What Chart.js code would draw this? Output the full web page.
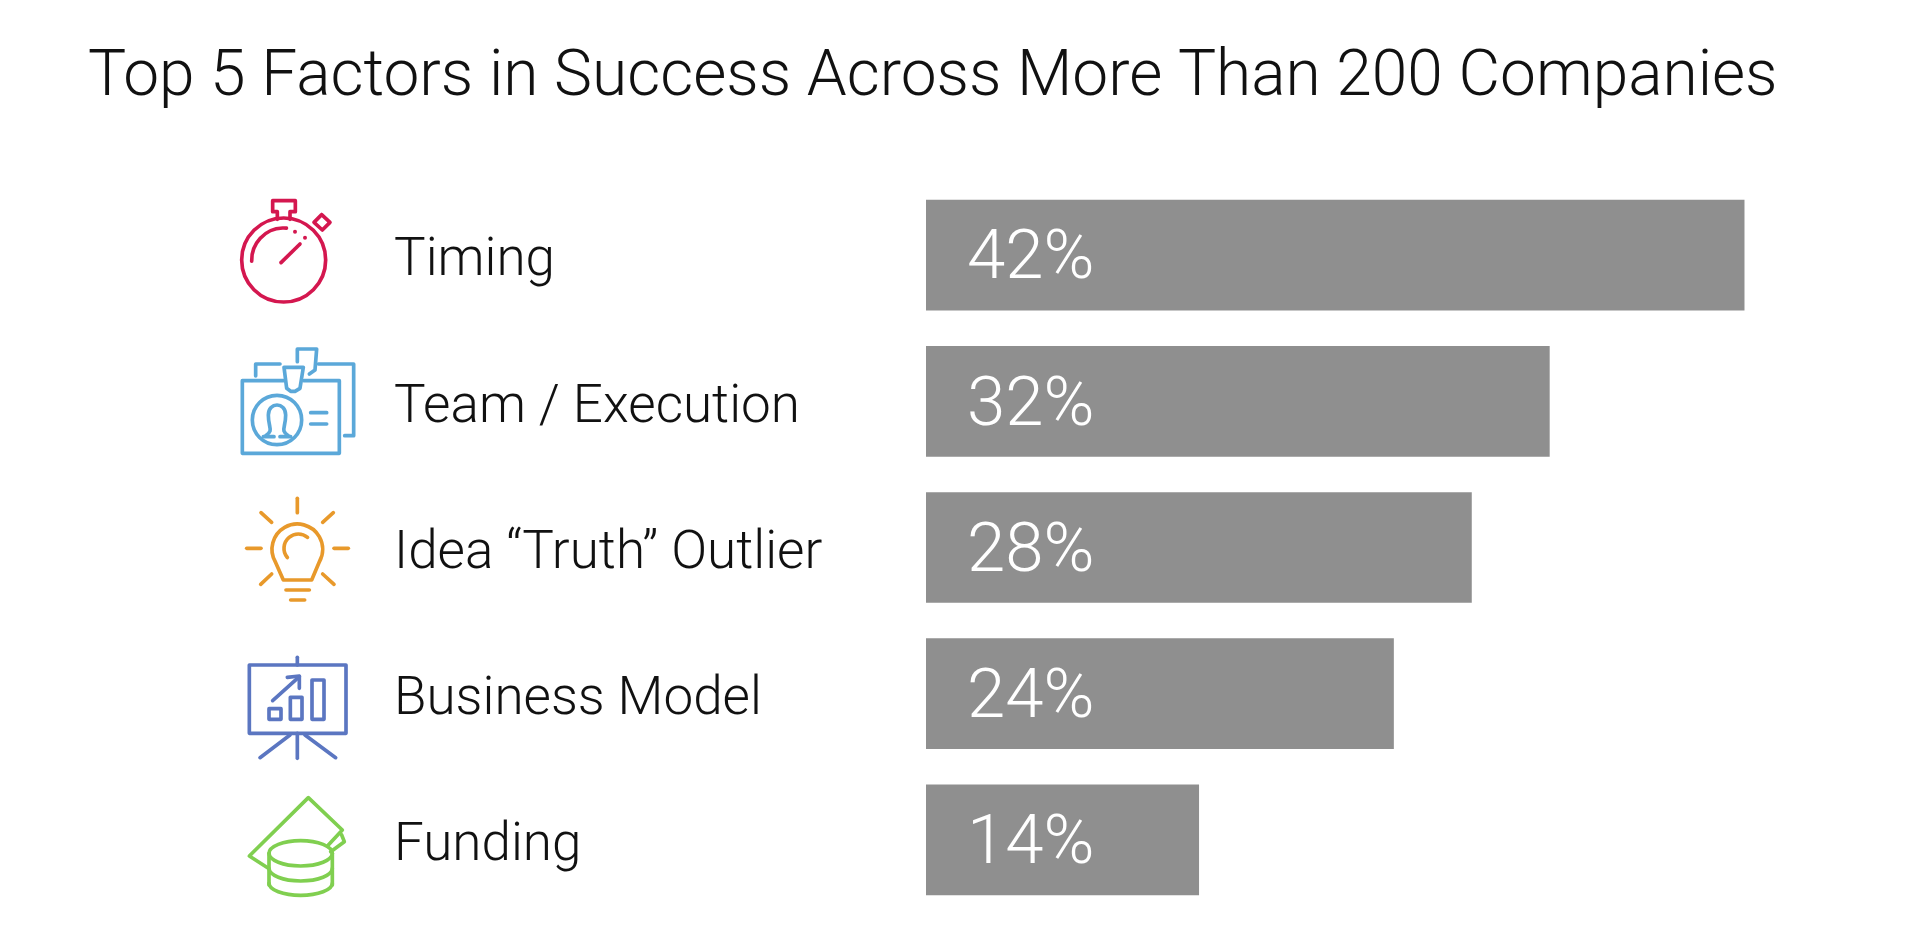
<!DOCTYPE html>
<html><head><meta charset="utf-8">
<style>html,body{margin:0;padding:0;background:#fff;overflow:hidden}canvas{display:block}</style>
<script src="https://cdn.jsdelivr.net/npm/chart.js@4"></script></head>
<body><canvas id="c" width="1920" height="949"></canvas>
<script>
const titleText = 'Top 5 Factors in Success Across More Than 200 Companies';
const categories = ['Timing', 'Team / Execution', 'Idea “Truth” Outlier', 'Business Model', 'Funding'];
const shares = [42, 32, 28, 24, 14];
const FONT = 'Roboto';

function drawIcons(ctx) {
  const path = (color, ox, oy, fn) => {
    ctx.save(); ctx.translate(ox, oy); ctx.scale(1/3, 1/3);
    ctx.strokeStyle = color; ctx.fillStyle = color; ctx.lineWidth = 11; ctx.lineCap = 'round'; ctx.lineJoin = 'round';
    fn(); ctx.restore();
  };
  const L = (...p) => { ctx.beginPath(); p.forEach((v,i)=> i%2===0 && (i? ctx.lineTo(v,p[i+1]) : ctx.moveTo(v,p[i+1]))); ctx.stroke(); };
  const A = (x,y,r,a,b) => { ctx.beginPath(); ctx.arc(x,y,r,a*Math.PI/180,b*Math.PI/180); ctx.stroke(); };
  const E = (x,y,rx,ry,a=0,b=360) => { ctx.beginPath(); ctx.ellipse(x,y,rx,ry,0,a*Math.PI/180,b*Math.PI/180); ctx.stroke(); };

  path('#d4174f', 200, 170, () => {
    A(251,270,126,0,360);
    A(251,270,96,178,275);
    L(232,148,232,125,218,125,218,92,286,92,286,125,270,125,270,148);
    L(365,134,390,157,367,180,342,157,365,134);
    L(243,278,300,222);
    ctx.beginPath(); ctx.arc(285,185,6,0,7); ctx.fill();
    ctx.beginPath(); ctx.arc(315,203,6,0,7); ctx.fill();
  });
  path('#5ba8d9', 200, 170, () => {
    L(250,632,127,632,127,850,418,850,418,632,312,632);
    L(167,618,167,582,240,582);
    L(355,582,461,582,461,797,434,797);
    L(252,592,310,592,300,655,285,664,272,664,260,655,252,592);
    L(292,575,292,537,350,537,345,600,328,612);
    A(231,750,74,0,360);
    L(332,728,380,728); L(332,762,380,762);
    ctx.beginPath(); ctx.moveTo(197,797); ctx.bezierCurveTo(222,780,205,775,205,735);
    ctx.bezierCurveTo(205,695,257,695,257,735); ctx.bezierCurveTo(257,775,240,780,265,797); ctx.stroke();
    L(190,800,222,800); L(240,800,272,800);
  });
  path('#e8992b', 200, 470, () => {
    L(292,85,292,128); L(183,128,215,157); L(400,128,368,157);
    L(140,235,183,235); L(402,235,445,235); L(215,312,182,343); L(368,312,402,343);
    ctx.beginPath(); ctx.arc(292,238,76,150*Math.PI/180,30*Math.PI/180);
    ctx.lineTo(335,330); ctx.lineTo(250,330); ctx.closePath(); ctx.stroke();
    L(258,360,328,360); L(272,390,314,390);
    A(295,235,43,140,310);
  });
  path('#5b76c1', 200, 470, () => {
    ctx.strokeRect(148,585,290,205);
    L(292,562,292,585); L(292,790,292,865); L(270,795,180,863); L(315,795,407,863);
    ctx.strokeRect(207,716,36,32); ctx.strokeRect(271,682,35,66); ctx.strokeRect(336,630,36,118);
    L(218,692,298,620); L(262,622,298,618,298,655);
  });
  path('#80cf50', 200, 470, () => {
    L(205,1195,148,1158,325,983,427,1080,385,1125);
    L(425,1095,433,1115,392,1145);
    E(302,1150,95,38);
    L(207,1150,207,1245); L(397,1150,397,1245);
    E(302,1195,95,38,0,180);
    E(302,1240,95,36,0,180);
  });
}

const overlay = {
  id: 'overlay',
  afterDatasetsDraw(chart) {
    const ctx = chart.ctx;
    drawIcons(ctx);
    const meta = chart.getDatasetMeta(0);
    ctx.save();
    ctx.fillStyle = '#ffffff';
    ctx.font = '300 69px ' + FONT;
    ctx.textAlign = 'left'; ctx.textBaseline = 'middle';
    meta.data.forEach((bar, i) => ctx.fillText(shares[i] + '%', bar.base + 41, bar.y + 6));
    ctx.restore();
  }
};

new Chart(document.getElementById('c'), {
  type: 'bar',
  plugins: [overlay],
  data: { labels: categories, datasets: [{ data: shares, backgroundColor: '#8f8f8f', barThickness: 110, borderWidth: 0 }] },
  options: {
    indexAxis: 'y', responsive: false, animation: false,
    layout: { padding: { left: 88, right: 20, top: 0, bottom: 36 } },
    plugins: {
      legend: { display: false }, tooltip: { enabled: false },
      title: { display: true, text: titleText, align: 'start', color: '#111',
        font: { family: FONT, size: 64, weight: '300', lineHeight: 1 },
        padding: { top: 47, bottom: 71 } }
    },
    scales: {
      x: { display: false, min: 0, max: 50, grid: { display: false } },
      y: {
        grid: { display: false, drawTicks: false }, border: { display: false },
        afterFit: s => { s.width = 838; },
        ticks: { mirror: true, padding: -532, labelOffset: 7, color: '#111', font: { family: FONT, size: 53, weight: '300' } }
      }
    }
  }
});
</script></body></html>
